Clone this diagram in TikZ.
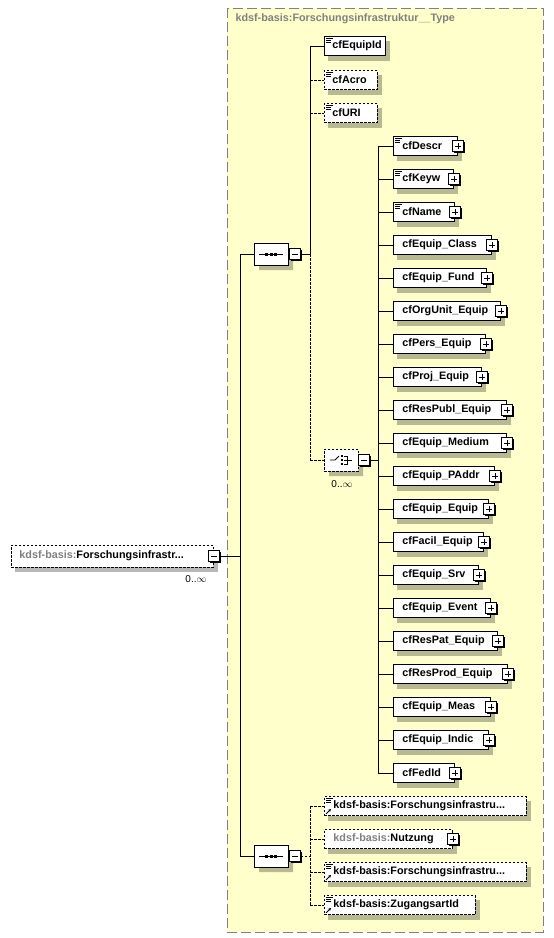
\documentclass[tikz,border=0pt]{standalone}
\usepackage{fontspec}
\setmainfont{Liberation Sans}
\usetikzlibrary{shapes.misc,arrows.meta}
\definecolor{typebg}{RGB}{255,255,204}
\definecolor{typeframe}{RGB}{128,128,128}
\definecolor{prefix}{RGB}{128,128,128}
\pgfdeclarelayer{frame}
\pgfdeclarelayer{shadow}
\pgfsetlayers{frame,shadow,main}
\tikzset{
    elem/.style = {draw, fill=white, line width=0.9pt, rectangle, anchor=west, minimum height=19pt, inner xsep=8pt, inner ysep=0pt, font=\bfseries\fontsize{10.8}{12}\selectfont},
    optional/.style = {dash pattern=on 2.5pt off 1.5pt},
    toggle/.style = {draw, fill=white, line width=0.8pt, minimum size=11pt, inner sep=0pt},
    compositor/.style = {draw, fill=white, line width=0.8pt, chamfered rectangle, chamfered rectangle xsep=4pt, minimum width=34pt, minimum height=22pt, inner sep=0pt},
    shadowfill/.style = {fill=black, fill opacity=0.28},
    link/.style = {line width=0.8pt},
    occurs/.style = {font=\fontsize{10}{12}\selectfont},
}
\newcommand{\castshadow}[1]{%
  \begin{pgfonlayer}{shadow}
    \fill[shadowfill] ([shift={(4,5)}]#1.north west) rectangle ([shift={(4,5)}]#1.south east);
  \end{pgfonlayer}}
\newcommand{\plusbox}[2]{%
  \fill ([shift={(-4.3,-4.3)}]#2) rectangle ([shift={(6.8,6.8)}]#2);
  \node[toggle] (#1) at (#2) {};
  \draw[line width=0.7pt] ([xshift=-3pt]#1.center) -- ([xshift=3pt]#1.center) ([yshift=-3pt]#1.center) -- ([yshift=3pt]#1.center);}
\newcommand{\minusbox}[2]{%
  \fill ([shift={(-4.3,-4.3)}]#2) rectangle ([shift={(6.8,6.8)}]#2);
  \node[toggle] (#1) at (#2) {};
  \draw[line width=0.7pt] ([xshift=-3pt]#1.center) -- ([xshift=3pt]#1.center);}
\newcommand{\docicon}[1]{%
  \draw[line width=0.6pt] ([shift={(2,2.5)}]#1.north west) -- ++(7,0) ([shift={(2,4.5)}]#1.north west) -- ++(5,0) ([shift={(2,6.5)}]#1.north west) -- ++(5,0);}
\newcommand{\refarrow}[1]{%
  \draw[line width=0.8pt, -{Stealth[length=3pt,width=3pt]}] ([shift={(2,-2)}]#1.south west) -- ++(5,-5);}

\begin{document}
\begin{tikzpicture}[x=1pt, y=-1pt]
\useasboundingbox (0,0) rectangle (554,938);
% complex type frame
\begin{pgfonlayer}{frame}
  \fill[white] (0,0) rectangle (554,938);
  \draw[draw=typeframe, fill=typebg, line width=1pt, dash pattern=on 10pt off 4pt] (227,8) rectangle (543,932);
\end{pgfonlayer}
\node[anchor=west, text=prefix, font=\bfseries\fontsize{10.8}{12}\selectfont] (title) at (232,19) {kdsf-basis:Forschungsinfrastruktur\_\_Type};

% root element
\node[elem, optional, minimum width=202pt, minimum height=22pt] (root) at (11,556) {\makebox[186pt][l]{\textcolor{prefix}{kdsf-basis:}Forschungsinfrastr...}};
\castshadow{root}
\minusbox{roottog}{root.east}
\node[occurs] (rootocc) at (196,579) {0..$\infty$};

% sequences
\node[compositor] (seqa) at (271,254) {};
\node[compositor] (seqb) at (271,856) {};
\foreach \s in {seqa,seqb}{
  \begin{pgfonlayer}{shadow}
    \node[compositor, draw=none, shadowfill] at ([shift={(5,5)}]\s.center) {};
  \end{pgfonlayer}
  \draw[line width=0.8pt] ([xshift=-12pt]\s.center) -- ([xshift=12pt]\s.center);
  \foreach \d in {-4.5,0,4.5}
    \fill ([xshift=\d pt-1.5pt, yshift=1.5pt]\s.center) rectangle ++(3,3);
}
\minusbox{seqatog}{295,254}
\minusbox{seqbtog}{295,856}

\coordinate (rootbus) at (240,556);
\draw[link] (roottog.east) -- (rootbus);
\draw[link] (seqa.west -| rootbus) -- (seqb.west -| rootbus);
\draw[link] (seqa.west -| rootbus) -- (seqa.west);
\draw[link] (seqb.west -| rootbus) -- (seqb.west);

% first sequence
\coordinate (busa) at (310,254);
\coordinate (busatop) at (310,46);
\coordinate (busabot) at (310,460);
\draw[link] (seqatog.east) -- (busa);
\draw[link] (busatop) -- (busa);
\draw[link, optional] (busa) -- (busabot);

\node[elem, minimum width=61pt] (equipid) at (324,46) {\makebox[45pt][l]{cfEquipId}};
\node[elem, optional, minimum width=53pt] (acro) at (324,80) {\makebox[37pt][l]{cfAcro}};
\node[elem, optional, minimum width=53pt] (uri) at (324,113) {\makebox[37pt][l]{cfURI}};
\foreach \n in {equipid,acro,uri}{
  \castshadow{\n}
  \docicon{\n}
}
\draw[link] (busatop) -- (equipid.west);
\draw[link, optional] (acro.west -| busa) -- (acro.west);
\draw[link, optional] (uri.west -| busa) -- (uri.west);

% choice
\node[compositor, optional] (choice) at (341,460) {};
\begin{pgfonlayer}{shadow}
  \node[compositor, draw=none, shadowfill] at ([shift={(5,5)}]choice.center) {};
\end{pgfonlayer}
\begin{scope}[shift={(choice.center)}, line width=0.8pt]
  \draw (-11,0) -- (-6,0) -- (-2,-4);
  \foreach \d in {-4,0,4} \fill (-0.5,\d-1.2) rectangle ++(2.4,2.4);
  \draw (3,-4) -- (6,-4) -- (6,4) -- (3,4) (3,0) -- (11,0);
\end{scope}
\minusbox{choicetog}{364,460}
\node[occurs] (choiceocc) at (342,484) {0..$\infty$};
\draw[link, optional] (busabot) -- (choice.west);

\coordinate (busb) at (378,460);
\coordinate (busbtop) at (378,146);
\coordinate (busbbot) at (378,773);
\draw[link] (choicetog.east) -- (busb);
\draw[link] (busbtop) -- (busbbot);

\foreach \nm/\rt/\doc [count=\i, evaluate=\i as \y using 146+33*(\i-1), evaluate=\rt as \bw using \rt-393, evaluate=\rt as \txtw using \rt-411] in {
    cfDescr/457/1, cfKeyw/453/1, cfName/454/1, cfEquip\_Class/491/0,
    cfEquip\_Fund/486/0, cfOrgUnit\_Equip/500/0, cfPers\_Equip/485/0,
    cfProj\_Equip/481/0, cfResPubl\_Equip/506/0, cfEquip\_Medium/506/0,
    cfEquip\_PAddr/494/0, cfEquip\_Equip/488/0, cfFacil\_Equip/483/0,
    cfEquip\_Srv/478/0, cfEquip\_Event/490/0, cfResPat\_Equip/497/0,
    cfResProd\_Equip/507/0, cfEquip\_Meas/490/0, cfEquip\_Indic/488/0,
    cfFedId/454/0}
{
  \node[elem, minimum width=\bw pt] (ch\i) at (393,\y) {\makebox[\txtw pt][l]{\nm}};
  \castshadow{ch\i}
  \plusbox{chtog\i}{ch\i.east}
  \draw[link] (ch\i.west -| busb) -- (ch\i.west);
  \ifnum\doc=1 \docicon{ch\i}\fi
}

% second sequence
\coordinate (busc) at (310,856);
\coordinate (busctop) at (310,806);
\coordinate (buscbot) at (310,905);
\draw[link, optional] (seqbtog.east) -- (busc);
\draw[link, optional] (busctop) -- (buscbot);

\node[elem, optional, minimum width=202pt] (infraa) at (324,806) {\makebox[184pt][l]{kdsf-basis:Forschungsinfrastru...}};
\node[elem, optional, minimum width=128pt] (nutzung) at (324,839) {\makebox[110pt][l]{\textcolor{prefix}{kdsf-basis:}Nutzung}};
\node[elem, optional, minimum width=202pt] (infrab) at (324,872) {\makebox[184pt][l]{kdsf-basis:Forschungsinfrastru...}};
\node[elem, optional, minimum width=151pt] (zugang) at (324,905) {\makebox[133pt][l]{kdsf-basis:ZugangsartId}};
\plusbox{nutzungtog}{nutzung.east}
\foreach \n in {infraa,nutzung,infrab,zugang}{
  \castshadow{\n}
  \draw[link, optional] (\n.west -| busc) -- (\n.west);
}
\foreach \n in {infraa,infrab,zugang}{
  \docicon{\n}
  \refarrow{\n}
}
\end{tikzpicture}
\end{document}
